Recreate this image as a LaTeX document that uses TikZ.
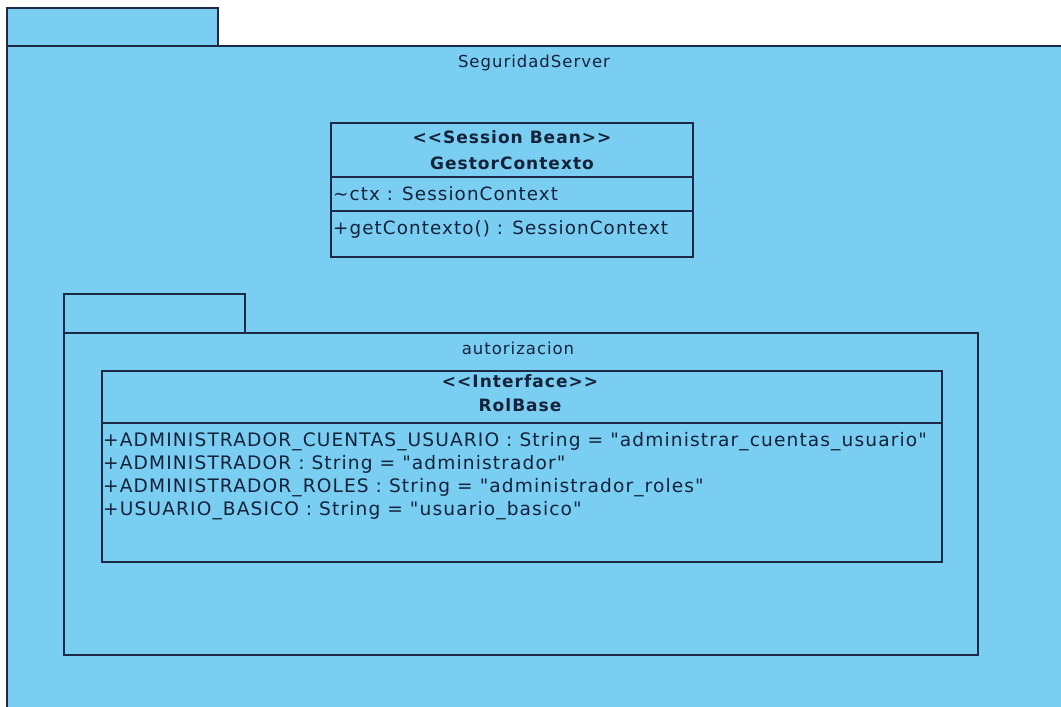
\documentclass[tikz,border=0pt]{standalone}
\usepackage{fontspec}
\setmainfont{DejaVu Sans}
\newfontfamily\umlfont[LetterSpace=6]{DejaVu Sans}
\definecolor{pkgfill}{RGB}{121,206,242}
\definecolor{umlline}{RGB}{28,42,72}
\definecolor{umltext}{RGB}{22,34,58}
\tikzset{
  pkg/.style={draw=umlline, fill=pkgfill, line width=1.3pt},
  classbox/.style={draw=umlline, line width=1.3pt},
  sep/.style={draw=umlline, line width=1.3pt},
  lbl/.style={inner sep=0pt, text=umltext, font=\umlfont\fontsize{18.3}{22}\selectfont},
  member/.style={lbl, anchor=base west},
  wide/.style={member, font=\umlfont\fontsize{18.6}{22}\selectfont},
  title/.style={lbl, anchor=base, font=\umlfont\fontsize{16.5}{20}\selectfont},
  stereo/.style={lbl, anchor=base, font=\umlfont\bfseries\fontsize{17}{20}\selectfont}
}
\begin{document}
\begin{tikzpicture}[x=1pt, y=-1pt]
\useasboundingbox (0,0) rectangle (1061,707);
\clip (0,0) rectangle (1061,707);
\fill[white] (0,0) rectangle (1061,707);

% package SeguridadServer
\draw[pkg] (7,8) rectangle (218,46);
\draw[pkg] (7,730) -- (7,46) -- (1080,46) -- (1080,730) -- cycle;
\node[title] (seg) at (534,67) {SeguridadServer};

% class GestorContexto
\draw[classbox] (331,123) rectangle (693,257);
\coordinate (gcL1) at (331,177); \coordinate (gcR1) at (693,177);
\coordinate (gcL2) at (331,211); \coordinate (gcR2) at (693,211);
\draw[sep] (gcL1) -- (gcR1);
\draw[sep] (gcL2) -- (gcR2);
\node[stereo] (gcs) at (512,143) {<<Session Bean>>};
\node[stereo] (gcn) at (512,169) {GestorContexto};
\node[member] (gca) at (333,200) {\textasciitilde ctx : SessionContext};
\node[member] (gco) at (333,234) {+getContexto() : SessionContext};

% package autorizacion
\draw[pkg] (64,294) rectangle (245,333);
\draw[pkg] (64,333) rectangle (978,655);
\node[title] (aut) at (518,354) {autorizacion};

% interface RolBase
\draw[classbox] (102,371) rectangle (942,562);
\coordinate (rbL) at (102,423); \coordinate (rbR) at (942,423);
\draw[sep] (rbL) -- (rbR);
\node[stereo] (rbs) at (520,387) {<<Interface>>};
\node[stereo] (rbn) at (520,411) {RolBase};
\node[wide] (rb1) at (103,446) {+ADMINISTRADOR\_CUENTAS\_USUARIO : String = "administrar\_cuentas\_usuario"};
\node[wide] (rb2) at (103,469) {+ADMINISTRADOR : String = "administrador"};
\node[wide] (rb3) at (103,492) {+ADMINISTRADOR\_ROLES : String = "administrador\_roles"};
\node[wide] (rb4) at (103,515) {+USUARIO\_BASICO : String = "usuario\_basico"};
\end{tikzpicture}
\end{document}
